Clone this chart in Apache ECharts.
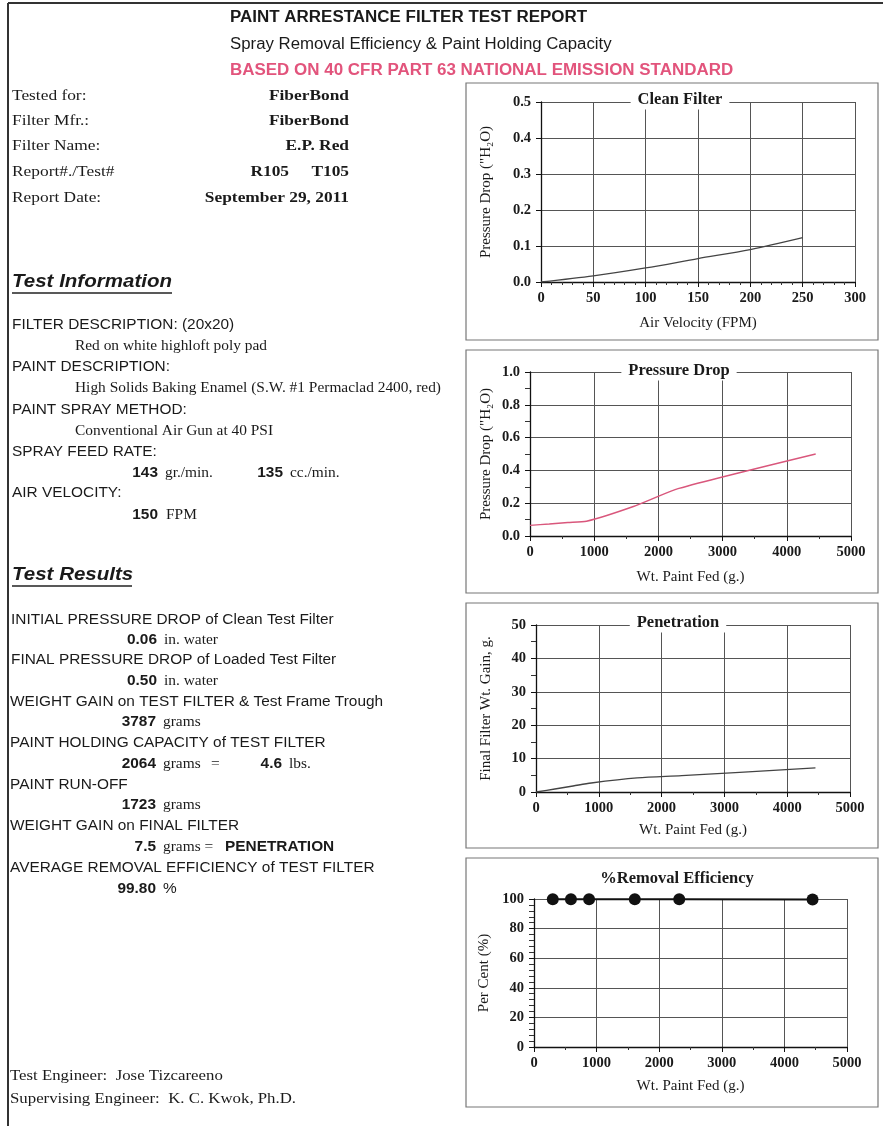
<!DOCTYPE html>
<html>
<head>
<meta charset="utf-8">
<script src="https://cdn.jsdelivr.net/npm/echarts@6/dist/echarts.min.js"></script>
<style>
html,body{margin:0;padding:0;background:#fff;}
#c{width:883px;height:1126px;}
</style>
</head>
<body>
<div id="c"></div>
<script>
// ---------- data ----------
const cleanVelocity = [0, 50, 100, 150, 200, 250];
const cleanDrop = [0.0, 0.017, 0.039, 0.065, 0.09, 0.123];

const paintFed = [0, 300, 590, 880, 1610, 2320, 4450];
const loadedDrop = [0.065, 0.073, 0.082, 0.09, 0.18, 0.29, 0.50];

const penetrationGain = [0, 0.9, 1.8, 2.7, 4.2, 4.9, 7.2];

const efficiencyFed = [300, 590, 880, 1610, 2320, 4450];
const efficiency = [99.9, 99.9, 99.9, 99.8, 99.8, 99.7];

const cleanXTicks = [0, 300, 50];
const fedXTicks = [0, 5000, 1000];

// ---------- styling ----------
const SERIF = '"Liberation Serif", "Times New Roman", serif';
const SANS = '"Liberation Sans", Arial, sans-serif';
const INK = '#1a1a1a';

const chart = echarts.init(document.getElementById('c'));

function pairs(xs, ys) { return xs.map((x, i) => [x, ys[i]]); }

function axes(i, o) {
  const x = {
    type: 'value', gridIndex: i, min: o.xmin, max: o.xmax, interval: o.xint,
    name: o.xname, nameLocation: 'middle', nameGap: o.xgap,
    nameTextStyle: { fontFamily: SERIF, fontSize: 15, color: INK },
    axisLine: { show: true, onZero: false, lineStyle: { color: '#111', width: 1.3 } },
    axisTick: { show: true, length: 5, inside: false, lineStyle: { color: '#111' } },
    minorTick: { show: true, splitNumber: o.xminor, length: 3, lineStyle: { color: '#333' } },
    axisLabel: { margin: 9, fontFamily: SERIF, fontWeight: 'bold', fontSize: 14.5, color: INK,
      formatter: v => String(v) },
    splitLine: { show: true, lineStyle: { color: '#555', width: 1 } }
  };
  const y = {
    type: 'value', gridIndex: i, min: 0, max: o.ymax, interval: o.yint,
    name: o.yname, nameLocation: 'middle', nameGap: o.ygap, nameRotate: 90,
    nameTextStyle: { fontFamily: SERIF, fontSize: 15, color: INK },
    axisLine: { show: true, onZero: false, lineStyle: { color: '#111', width: 1.3 } },
    axisTick: { show: true, length: 5, lineStyle: { color: '#111' } },
    minorTick: { show: o.yminor > 1, splitNumber: o.yminor, length: 5, lineStyle: { color: '#333' } },
    axisLabel: { margin: 10, fontFamily: SERIF, fontWeight: 'bold', fontSize: 14.5, color: INK,
      formatter: v => o.ydec ? v.toFixed(o.ydec) : String(v) },
    splitLine: { show: true, lineStyle: { color: '#555', width: 1 } }
  };
  return [x, y];
}

const a0 = axes(0, { xmin: cleanXTicks[0], xmax: cleanXTicks[1], xint: cleanXTicks[2], xminor: 5,
  xname: 'Air Velocity (FPM)', xgap: 34, ymax: 0.5, yint: 0.1, yminor: 1, ydec: 1,
  yname: 'Pressure Drop ("H\u2082O)', ygap: 47 });
const a1 = axes(1, { xmin: fedXTicks[0], xmax: fedXTicks[1], xint: fedXTicks[2], xminor: 2,
  xname: 'Wt. Paint Fed (g.)', xgap: 34, ymax: 1.0, yint: 0.2, yminor: 2, ydec: 1,
  yname: 'Pressure Drop ("H\u2082O)', ygap: 36 });
const a2 = axes(2, { xmin: fedXTicks[0], xmax: fedXTicks[1], xint: fedXTicks[2], xminor: 2,
  xname: 'Wt. Paint Fed (g.)', xgap: 31, ymax: 50, yint: 10, yminor: 2, ydec: 0,
  yname: 'Final Filter Wt. Gain, g.', ygap: 42 });
const a3 = axes(3, { xmin: fedXTicks[0], xmax: fedXTicks[1], xint: fedXTicks[2], xminor: 2,
  xname: 'Wt. Paint Fed (g.)', xgap: 32, ymax: 100, yint: 20, yminor: 5, ydec: 0,
  yname: 'Per Cent (%)', ygap: 42 });

// ---------- page texts ----------
const G = [];
function T(x, y, text, font, opt) {
  opt = opt || {};
  G.push({ type: 'text', x: x, y: y, z: 100, scaleX: opt.sx || 1,
    style: Object.assign({ text: text, font: font, fill: opt.fill || INK,
      align: opt.align || 'left', verticalAlign: 'middle' }, opt.style || {}) });
}
function L(x1, y1, x2, y2, w, c) {
  G.push({ type: 'line', z: 90, shape: { x1, y1, x2, y2 }, style: { stroke: c || '#222', lineWidth: w || 1 } });
}
function R(x, y, w, h) {
  G.push({ type: 'rect', z: 1, shape: { x, y, width: w, height: h }, style: { fill: 'none', stroke: '#777', lineWidth: 1.2 } });
}

const fS = s => s + 'px ' + SERIF;
const fSB = s => 'bold ' + s + 'px ' + SERIF;
const fA = s => s + 'px ' + SANS;
const fAB = s => 'bold ' + s + 'px ' + SANS;

// body text helpers (scan is slightly stretched horizontally)
const SX = 1.1;
const sans = (x, y, t, o) => T(x, y, t, fA(14), Object.assign({ sx: SX }, o || {}));
const sansB = (x, y, t, o) => T(x, y, t, fAB(14), Object.assign({ sx: SX }, o || {}));
const ser = (x, y, t, o) => T(x, y, t, fS(14), Object.assign({ sx: SX }, o || {}));

// page frame
L(8, 3, 883, 3, 2, '#333');
L(8, 3, 8, 1126, 2, '#333');

// header
T(230, 18, 'PAINT ARRESTANCE FILTER TEST REPORT', fAB(16), { sx: 1.06 });
T(230, 45, 'Spray Removal Efficiency & Paint Holding Capacity', fA(16), { sx: 1.05 });
T(230, 71, 'BASED ON 40 CFR PART 63 NATIONAL EMISSION STANDARD', fAB(16), { fill: '#e2547c', sx: 1.06 });

// identification
const idRows = [['Tested for:', 'FiberBond', 96], ['Filter Mfr.:', 'FiberBond', 121], ['Filter Name:', 'E.P. Red', 146],
  ['Report#./Test#', '', 172], ['Report Date:', 'September 29, 2011', 198]];
idRows.forEach(r => {
  T(12, r[2], r[0], fS(15.5), { sx: 1.12 });
  if (r[1]) T(349, r[2], r[1], fSB(15.5), { align: 'right', sx: 1.12 });
});
T(289, 172, 'R105', fSB(15.5), { align: 'right', sx: 1.12 });
T(349, 172, 'T105', fSB(15.5), { align: 'right', sx: 1.12 });

// Test information
T(12, 282, 'Test Information', 'italic bold 19px ' + SANS, { sx: 1.08 });
L(12, 293, 172, 293, 1.5, '#222');
sans(12, 325, 'FILTER DESCRIPTION: (20x20)');
ser(75, 346, 'Red on white highloft poly pad');
sans(12, 367, 'PAINT DESCRIPTION:');
ser(75, 388, 'High Solids Baking Enamel (S.W. #1 Permaclad 2400, red)');
sans(12, 410, 'PAINT SPRAY METHOD:');
ser(75, 431, 'Conventional Air Gun at 40 PSI');
sans(12, 452, 'SPRAY FEED RATE:');
sansB(158, 473, '143', { align: 'right' });
ser(165, 473, 'gr./min.');
sansB(283, 473, '135', { align: 'right' });
ser(290, 473, 'cc./min.');
sans(12, 493, 'AIR VELOCITY:');
sansB(158, 515, '150', { align: 'right' });
ser(166, 515, 'FPM');

// Test results
T(12, 575, 'Test Results', 'italic bold 19px ' + SANS, { sx: 1.08 });
L(12, 586, 132, 586, 1.5, '#222');
sans(11, 620, 'INITIAL PRESSURE DROP of Clean Test Filter');
sansB(157, 640, '0.06', { align: 'right' });
ser(164, 640, 'in. water');
sans(11, 660, 'FINAL PRESSURE DROP of Loaded Test Filter');
sansB(157, 681, '0.50', { align: 'right' });
ser(164, 681, 'in. water');
sans(10, 702, 'WEIGHT GAIN on TEST FILTER & Test Frame Trough');
sansB(156, 722, '3787', { align: 'right' });
ser(163, 722, 'grams');
sans(10, 743, 'PAINT HOLDING CAPACITY of TEST FILTER');
sansB(156, 764, '2064', { align: 'right' });
ser(163, 764, 'grams');
ser(211, 764, '=');
sansB(282, 764, '4.6', { align: 'right' });
ser(289, 764, 'lbs.');
sans(10, 785, 'PAINT RUN-OFF');
sansB(156, 805, '1723', { align: 'right' });
ser(163, 805, 'grams');
sans(10, 826, 'WEIGHT GAIN on FINAL FILTER');
sansB(156, 847, '7.5', { align: 'right' });
ser(163, 847, 'grams =');
sansB(225, 847, 'PENETRATION');
sans(10, 868, 'AVERAGE REMOVAL EFFICIENCY of TEST FILTER');
sansB(156, 889, '99.80', { align: 'right' });
sans(163, 889, '%');

T(10, 1076, 'Test Engineer:  Jose Tizcareeno', fS(15), { sx: 1.12 });
T(10, 1099, 'Supervising Engineer:  K. C. Kwok, Ph.D.', fS(15), { sx: 1.12 });

// chart boxes
R(466, 83, 412, 257);
R(466, 350, 412, 243);
R(466, 603, 412, 245);
R(466, 858, 412, 249);

// chart titles (white background masks the top gridline)
function title(cx, cy, text) {
  G.push({ type: 'text', x: cx, y: cy, z: 100,
    style: { text, font: fSB(16.5), fill: INK, align: 'center', verticalAlign: 'middle',
      backgroundColor: '#fff', padding: [1, 7] } });
}
title(680, 100, 'Clean Filter');
title(679, 371, 'Pressure Drop');
title(678, 623, 'Penetration');
title(677, 879, '%Removal Efficiency');

const option = {
  backgroundColor: '#fff',
  animation: false,
  grid: [
    { left: 541, right: 883 - 855, top: 102, bottom: 1126 - 282 },
    { left: 530, right: 883 - 851, top: 372, bottom: 1126 - 536 },
    { left: 536, right: 883 - 850, top: 625, bottom: 1126 - 792 },
    { left: 534, right: 883 - 847, top: 899, bottom: 1126 - 1047 }
  ],
  xAxis: [a0[0], a1[0], a2[0], a3[0]],
  yAxis: [a0[1], a1[1], a2[1], a3[1]],
  graphic: { elements: G },
  series: [
    { type: 'line', xAxisIndex: 0, yAxisIndex: 0, data: pairs(cleanVelocity, cleanDrop), smooth: 0.3,
      showSymbol: false, lineStyle: { color: '#444', width: 1.3 } },
    { type: 'line', xAxisIndex: 1, yAxisIndex: 1, data: pairs(paintFed, loadedDrop), smooth: 0.2,
      showSymbol: false, lineStyle: { color: '#d9577c', width: 1.4 } },
    { type: 'line', xAxisIndex: 2, yAxisIndex: 2, data: pairs(paintFed, penetrationGain), smooth: 0.3,
      showSymbol: false, lineStyle: { color: '#444', width: 1.3 } },
    { type: 'line', xAxisIndex: 3, yAxisIndex: 3, data: pairs(efficiencyFed, efficiency),
      symbol: 'circle', symbolSize: 12, itemStyle: { color: '#111' }, lineStyle: { color: '#111', width: 2 } }
  ]
};
chart.setOption(option);
</script>
</body>
</html>
